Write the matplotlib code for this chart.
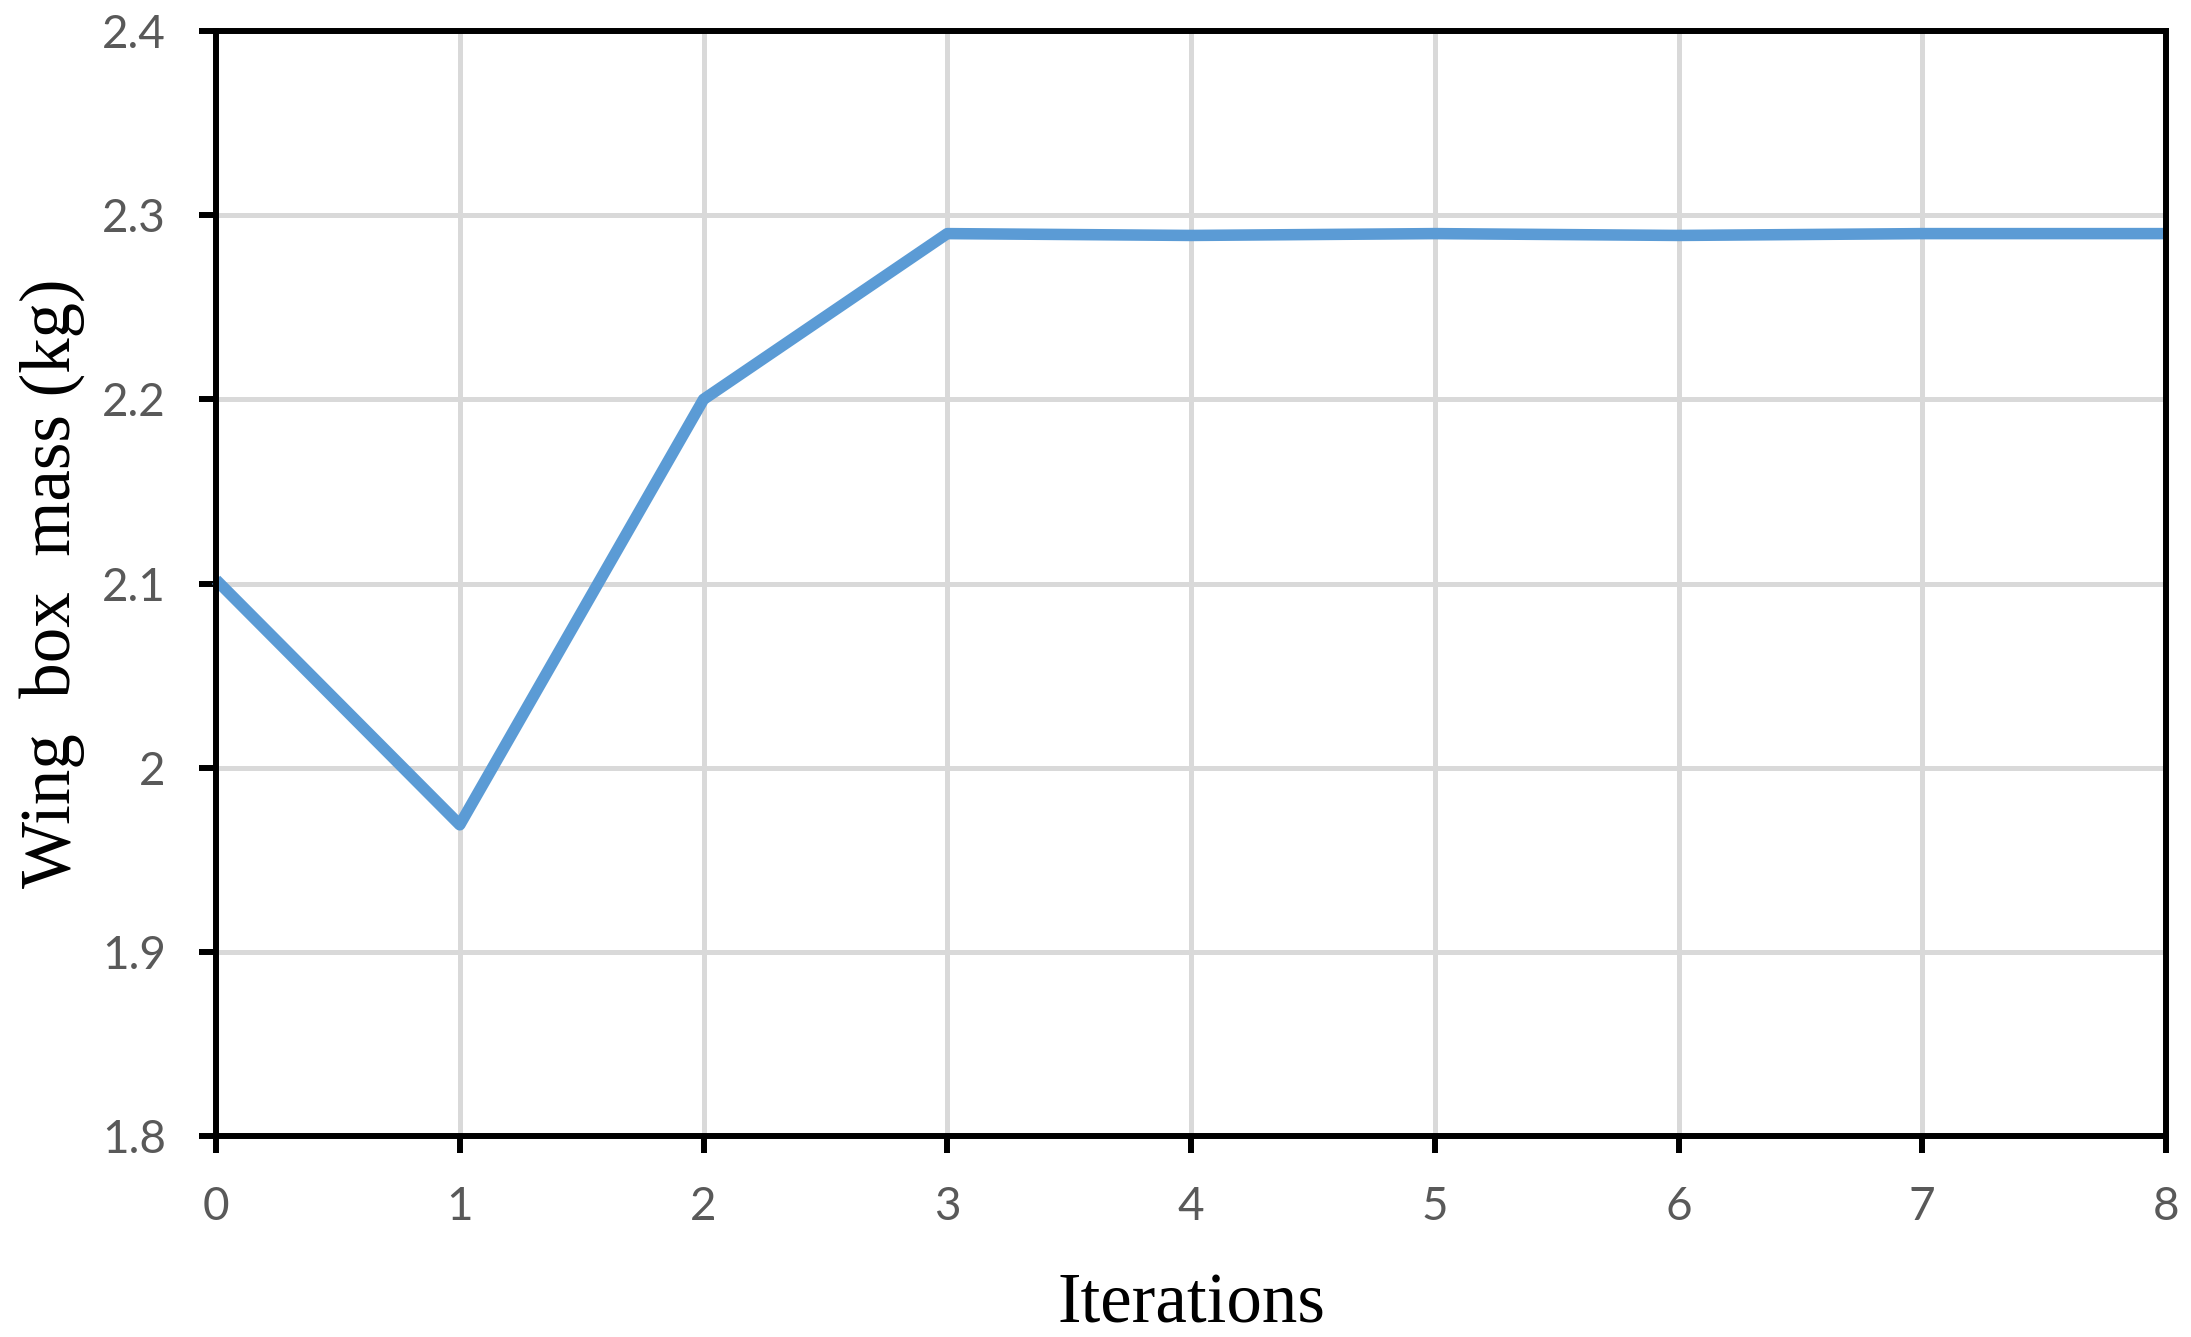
import matplotlib
matplotlib.use("Agg")
import matplotlib.pyplot as plt

iterations = [0, 1, 2, 3, 4, 5, 6, 7, 8]
mass = [2.102, 1.969, 2.200, 2.290, 2.289, 2.290, 2.289, 2.290, 2.290]
x_ticks = [0, 1, 2, 3, 4, 5, 6, 7, 8]
y_ticks = [1.8, 1.9, 2.0, 2.1, 2.2, 2.3, 2.4]
y_tick_labels = ["1.8", "1.9", "2", "2.1", "2.2", "2.3", "2.4"]

fig = plt.figure(figsize=(21.91, 13.37), dpi=100)
ax = fig.add_axes([0.0986, 0.1503, 0.89, 0.8265])

ax.plot(iterations, mass, color="#5b9bd5", linewidth=8.3, solid_joinstyle="round",
        solid_capstyle="butt", clip_on=False, zorder=3)

ax.set_xlim(0, 8)
ax.set_ylim(1.8, 2.4)
ax.set_xticks(x_ticks)
ax.set_yticks(y_ticks)
ax.set_yticklabels(y_tick_labels)
ax.grid(True, color="#d9d9d9", linewidth=3.6, zorder=0)
ax.set_axisbelow(True)

for s in ax.spines.values():
    s.set_linewidth(4.3)
    s.set_color("black")
    s.set_zorder(4)

ax.tick_params(axis="both", direction="out", length=12.2, width=4.3, color="black",
               labelsize=33, labelcolor="#595959", pad=24)
for lbl in ax.get_xticklabels() + ax.get_yticklabels():
    lbl.set_fontfamily("Lato")

ax.set_xlabel("Iterations", fontsize=51, fontfamily="Liberation Serif", labelpad=32)
ax.set_ylabel("Wing  box  mass (kg)", fontsize=51, fontfamily="Liberation Serif", labelpad=12)

fig.savefig("out.png", dpi=100)
